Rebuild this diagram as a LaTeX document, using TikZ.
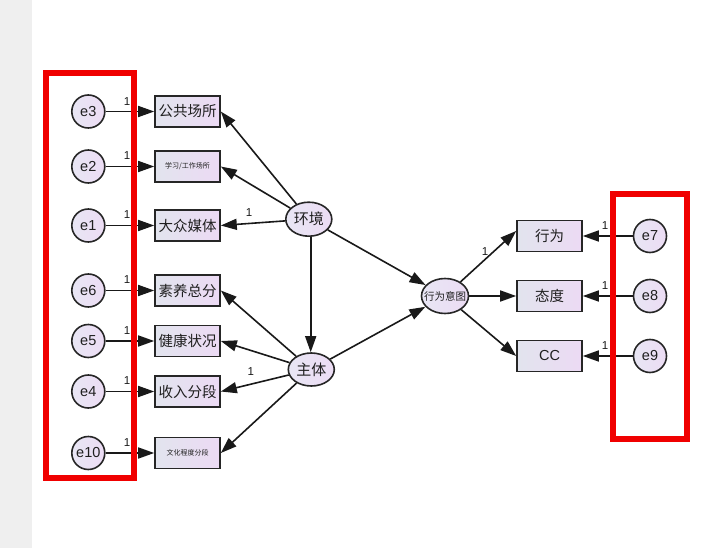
\documentclass[tikz,border=0pt]{standalone}
\usepackage{fontspec}
\setmainfont{Liberation Sans}
\newfontfamily\cjk{Noto Sans CJK SC}
\usetikzlibrary{arrows.meta,shapes.geometric}
\definecolor{rectL}{RGB}{226,228,238}
\definecolor{rectR}{RGB}{236,218,244}
\definecolor{ellL}{RGB}{232,230,244}
\definecolor{ellR}{RGB}{236,220,244}
\definecolor{stripgray}{RGB}{239,239,239}
\definecolor{boxred}{RGB}{240,0,0}
\begin{document}
\begin{tikzpicture}[x=1pt,y=-1pt,
  obs/.style={draw=black!85, line width=1.6pt, rectangle, minimum width=65pt, minimum height=31pt, inner sep=0pt, left color=rectL, right color=rectR, text=black!88, font=\cjk\fontsize{14.5}{14.5}\selectfont},
  obssmall/.style={obs, font=\cjk\fontsize{7}{7}\selectfont},
  lat/.style={draw=black!85, line width=1.6pt, ellipse, inner sep=0pt, minimum width=46pt, minimum height=34pt, left color=ellL, right color=ellR, text=black!88, font=\cjk\fontsize{15}{15}\selectfont},
  err/.style={draw=black!85, line width=1.6pt, circle, inner sep=0pt, minimum size=33pt, left color=ellL, right color=ellR, text=black!88, font=\fontsize{14.5}{14.5}\selectfont},
  arr/.style={line width=1.6pt, draw=black!90, -{Triangle[length=16pt,width=11pt]}},
  one/.style={inner sep=0pt, font=\fontsize{11.5}{11.5}\selectfont, text=black!90},
  redbox/.style={draw=boxred, line width=6pt}
]
\useasboundingbox (0,0) rectangle (712,548);
\fill[stripgray] (0,0) rectangle (31.5,548);

% left error circles
\node[err] (e3) at (88.3,111.5) {e3};
\node[err] (e2) at (88.3,166.5) {e2};
\node[err] (e1) at (88.3,225.5) {e1};
\node[err] (e6) at (88.3,290.5) {e6};
\node[err] (e5) at (88.3,341) {e5};
\node[err] (e4) at (88.3,391.5) {e4};
\node[err] (e10) at (88.3,453) {e10};

% left observed
\node[obs] (ggcs) at (187.5,111.5) {公共场所};
\node[obssmall] (xxgz) at (187.5,166.5) {学习/工作场所};
\node[obs] (dzmt) at (187.5,225.5) {大众媒体};
\node[obs] (syzf) at (187.5,290.5) {素养总分};
\node[obs] (jkzk) at (187.5,341) {健康状况};
\node[obs] (srfd) at (187.5,391.5) {收入分段};
\node[obssmall] (whcd) at (187.5,453) {文化程度分段};

% latent
\node[lat] (hj) at (308.8,219.2) {环境};
\node[lat, minimum height=33pt] (zt) at (311.3,369.5) {主体};
\node[lat, minimum width=47pt, minimum height=35pt, font=\cjk\fontsize{10.5}{10.5}\selectfont] (xwyt) at (445,296) {\makebox[0pt]{行为意图}};

% right observed
\node[obs] (xw) at (549.5,236) {行为};
\node[obs] (td) at (549.5,296) {态度};
\node[obs, font=\fontsize{14.5}{14.5}\selectfont] (cc) at (549.5,356) {CC};

% right error circles
\node[err] (e7) at (650,236) {e7};
\node[err] (e8) at (650,296) {e8};
\node[err] (e9) at (650,356) {e9};

% error arrows
\foreach \e/\o in {e3/ggcs,e2/xxgz,e1/dzmt,e6/syzf,e5/jkzk,e4/srfd,e10/whcd,e7/xw,e8/td,e9/cc}
  \draw[arr] (\e) -- (\o);

% loadings
\foreach \o in {ggcs,xxgz,dzmt}
  \draw[arr] (hj) -- (\o.east);
\foreach \o in {syzf,jkzk,srfd,whcd}
  \draw[arr] (zt) -- (\o.east);
\draw[arr] (hj.south -| 310.7,0) -- (zt.north -| 310.7,0);
\draw[arr] (hj) -- (xwyt);
\draw[arr] (zt) -- (xwyt);
\draw[arr] (xwyt) -- ([yshift=5pt]xw.west);
\draw[arr] (xwyt) -- (td.west);
\draw[arr] (xwyt) -- (cc.west);

% labels "1"
\node[one] (l3) at (127,101.5) {1};
\node[one] (l2) at (127,156) {1};
\node[one] (l1) at (127,214.5) {1};
\node[one] (l6) at (127,279.5) {1};
\node[one] (l5) at (127,330.5) {1};
\node[one] (l4) at (127,381) {1};
\node[one] (l10) at (127,442.5) {1};
\node[one] (lhj) at (249,212.5) {1};
\node[one] (lzt) at (250.7,372) {1};
\node[one] (lxw) at (485,251.5) {1};
\node[one] (l7) at (605,225.5) {1};
\node[one] (l8) at (605,285.5) {1};
\node[one] (l9) at (605,345.5) {1};

% red boxes (on top)
\draw[redbox] (46.3,73.3) rectangle (133.7,477.5);
\draw[redbox] (613.3,194.5) rectangle (687,439);
\end{tikzpicture}
\end{document}
